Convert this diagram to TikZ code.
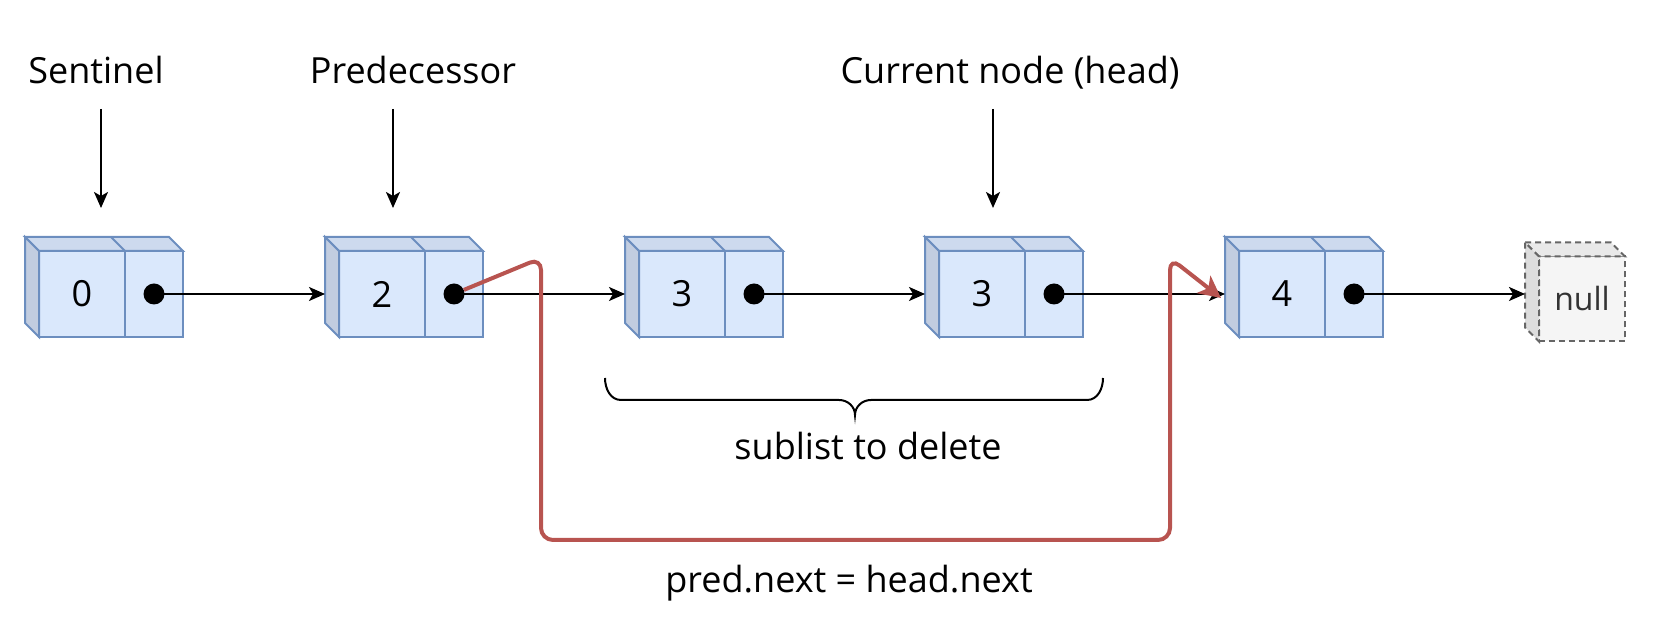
\documentclass[tikz,border=0pt]{standalone}
\usepackage{fontspec}
\setmainfont{Open Sans}
\usetikzlibrary{positioning, calc, arrows.meta}

\definecolor{boxfill}{HTML}{DAE8FC}
\definecolor{boxline}{HTML}{6C8EBF}
\definecolor{boxtop}{HTML}{CDDAEE}
\definecolor{boxside}{HTML}{C2CDE0}
\definecolor{nullfill}{HTML}{F5F5F5}
\definecolor{nullline}{HTML}{666666}
\definecolor{nulltop}{HTML}{E9E9E9}
\definecolor{nullside}{HTML}{DDDDDD}
\definecolor{nulltext}{HTML}{333333}
\definecolor{redline}{HTML}{B85450}

\newcommand{\bigfont}{\fontsize{36}{42}\selectfont}

\tikzset{
  valcell/.style={draw=boxline, fill=boxfill, line width=2pt, minimum width=86pt,
    minimum height=86pt, inner sep=0pt, outer sep=0pt, font=\bigfont},
  ptrcell/.style={valcell, minimum width=58pt},
  cubeface/.style={draw=boxline, line width=2pt},
  nullcell/.style={valcell, draw=nullline, fill=nullfill, dash pattern=on 6pt off 4pt,
    text=nulltext, minimum height=85pt, font=\fontsize{32}{38}\selectfont},
  nullface/.style={draw=nullline, line width=2pt, dash pattern=on 6pt off 4pt},
  ptrdot/.style={circle, fill=black, minimum size=21pt, inner sep=0pt},
  nextarrow/.style={-{Stealth[length=16pt,width=14pt,inset=4pt]}, line width=2pt},
  tagtext/.style={font=\bigfont, inner sep=0pt, anchor=base},
}

% one list element: name, left x of front face, value
\newcommand{\listnode}[3]{
  \node[valcell] (#1) at (#2+43,324) {#3};
  \node[ptrcell, right=0pt of #1] (#1p) {};
  \draw[cubeface, fill=boxtop] (#1.north west) -- ++(-14,14) -- ($(#1p.north east)+(-14,14)$) -- (#1p.north east) -- cycle;
  \draw[cubeface] (#1p.north west) -- ++(-14,14);
  \draw[cubeface, fill=boxside] (#1.north west) -- ++(-14,14) -- ($(#1.south west)+(-14,14)$) -- (#1.south west) -- cycle;
  \node[ptrdot] (#1d) at (#1p) {};
  \coordinate (#1in) at ($(#1.west)+(-14,0)$);
}

\begin{document}
\begin{tikzpicture}[x=1pt, y=1pt]
  \useasboundingbox (0,0) rectangle (1670,618);

  \listnode{n0}{39}{0}
  \listnode{n2}{339}{2}
  \listnode{n3}{639}{3}
  \listnode{n3b}{939}{3}
  \listnode{n4}{1239}{4}

  % null box
  \node[nullcell] (null) at (1582,319) {null};
  \draw[nullface, fill=nulltop] (null.north west) -- ++(-14,14) -- ($(null.north east)+(-14,14)$) -- (null.north east) -- cycle;
  \draw[nullface, fill=nullside] (null.north west) -- ++(-14,14) -- ($(null.south west)+(-14,14)$) -- (null.south west) -- cycle;
  \coordinate (nullin) at ($(null.west)+(-14,5)$);

  \draw[nextarrow] (n0d.center) -- (n2in);
  \draw[nextarrow] (n2d.center) -- (n3in);
  \draw[nextarrow] (n3d.center) -- (n3bin);
  \draw[nextarrow] (n3bd.center) -- (n4in);
  \draw[nextarrow] (n4d.center) -- (nullin);

  % pointers from above
  \node[tagtext] (sent) at (96,534) {Sentinel};
  \node[tagtext] (pred) at (413,534) {Predecessor};
  \node[tagtext] (cur) at (1010,534) {Current node (head)};
  \coordinate (sentTip) at (101,410);
  \coordinate (predTip) at (393,410);
  \coordinate (curTip) at (993,410);
  \draw[nextarrow] (sentTip) ++(0,99) -- (sentTip);
  \draw[nextarrow] (predTip) ++(0,99) -- (predTip);
  \draw[nextarrow] (curTip) ++(0,99) -- (curTip);

  % brace under the sublist
  \draw[line width=2pt] (605,240) to[out=-90,in=180] (621,218) -- (839,218)
    to[out=0,in=90] (855,203) to[out=90,in=180] (871,218) -- (1087,218)
    to[out=0,in=-90] (1103,240);
  \node[tagtext] (sub) at (868,158) {sublist to delete};

  % new link
  \coordinate (redtip) at ($(n4in)+(-4,-4)$);
  \draw[redline, line width=4pt, rounded corners=12pt,
    -{Stealth[length=22pt,width=22pt,inset=6pt]}]
    (n2d) -- (541,360) -- (541,78) -- (1170,78) -- (1170,360) -- (redtip);
  \node[tagtext] (eq) at (849,25) {pred.next = head.next};
\end{tikzpicture}
\end{document}
